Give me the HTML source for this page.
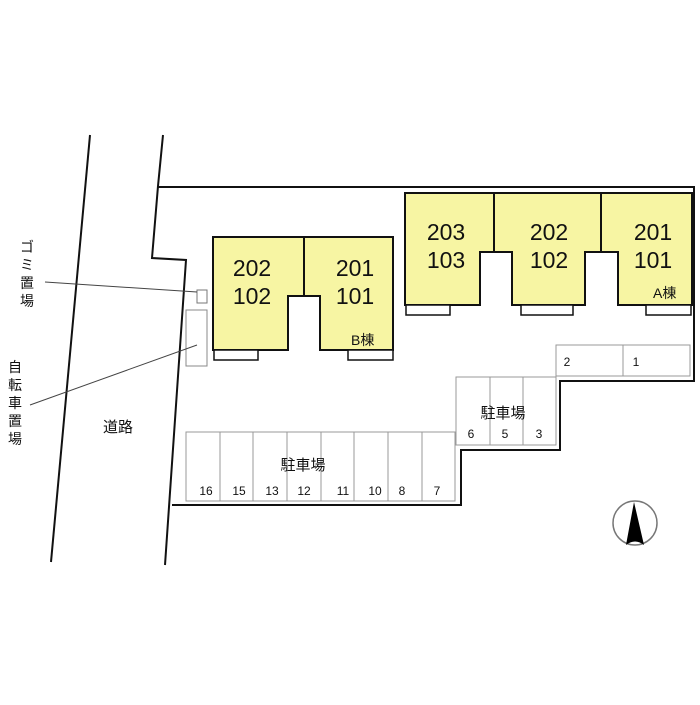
<!DOCTYPE html>
<html><head><meta charset="utf-8"><style>
html,body{margin:0;padding:0;background:#fff;}
svg text{font-family:"Liberation Sans","Noto Sans CJK JP",sans-serif;fill:#111;}
</style></head><body>
<svg width="700" height="700" viewBox="0 0 700 700" xmlns="http://www.w3.org/2000/svg">
<rect width="700" height="700" fill="#fff"/>
<!-- road lines -->
<line x1="90" y1="135" x2="51" y2="562" stroke="#111" stroke-width="2"/>
<polyline points="163,135 158,186 152,258 186,260 165,565" fill="none" stroke="#111" stroke-width="2"/>
<!-- site boundary -->
<polyline points="158,187 694,187 694,381 560,381 560,450 461,450 461,505 172,505" fill="none" stroke="#111" stroke-width="2"/>
<!-- building B -->
<path d="M213,237 H393 V350 H320 V296 H288 V350 H213 Z" fill="#f7f5a3" stroke="#111" stroke-width="2"/>
<line x1="304" y1="237" x2="304" y2="296" stroke="#111" stroke-width="2"/>
<rect x="214" y="350" width="44" height="10" fill="#fff" stroke="#111" stroke-width="1.5"/>
<rect x="348" y="350" width="45" height="10" fill="#fff" stroke="#111" stroke-width="1.5"/>
<!-- building A -->
<path d="M405,193 H692 V305 H618 V252 H585 V305 H512 V252 H480 V305 H405 Z" fill="#f7f5a3" stroke="#111" stroke-width="2"/>
<line x1="494" y1="193" x2="494" y2="252" stroke="#111" stroke-width="2"/>
<line x1="601" y1="193" x2="601" y2="252" stroke="#111" stroke-width="2"/>
<rect x="406" y="305" width="44" height="10" fill="#fff" stroke="#111" stroke-width="1.5"/>
<rect x="521" y="305" width="52" height="10" fill="#fff" stroke="#111" stroke-width="1.5"/>
<rect x="646" y="305" width="45" height="10" fill="#fff" stroke="#111" stroke-width="1.5"/>
<g font-size="23" text-anchor="middle">
<text x="252" y="276">202</text><text x="252" y="304">102</text>
<text x="355" y="276">201</text><text x="355" y="304">101</text>
<text x="446" y="240">203</text><text x="446" y="268">103</text>
<text x="549" y="240">202</text><text x="549" y="268">102</text>
<text x="653" y="240">201</text><text x="653" y="268">101</text>
</g>
<text x="351" y="345" font-size="14">B棟</text>
<text x="653" y="298" font-size="14">A棟</text>
<!-- garbage / bike -->
<rect x="197" y="290" width="10" height="13" fill="#fff" stroke="#777" stroke-width="1"/>
<rect x="186" y="310" width="21" height="56" fill="#fff" stroke="#888" stroke-width="1"/>
<line x1="45" y1="282" x2="197" y2="292" stroke="#444" stroke-width="1"/>
<line x1="30" y1="405" x2="197" y2="345" stroke="#444" stroke-width="1"/>
<!-- parking -->
<g fill="none" stroke="#999" stroke-width="1">
<rect x="556" y="345" width="134" height="31"/>
<line x1="623" y1="345" x2="623" y2="376"/>
<rect x="456" y="377" width="100" height="68"/>
<line x1="490" y1="377" x2="490" y2="445"/><line x1="523" y1="377" x2="523" y2="445"/>
<rect x="186" y="432" width="269" height="69"/>
<line x1="220" y1="432" x2="220" y2="501"/><line x1="253" y1="432" x2="253" y2="501"/>
<line x1="287" y1="432" x2="287" y2="501"/><line x1="321" y1="432" x2="321" y2="501"/>
<line x1="354" y1="432" x2="354" y2="501"/><line x1="388" y1="432" x2="388" y2="501"/>
<line x1="422" y1="432" x2="422" y2="501"/>
</g>
<g font-size="12" text-anchor="middle">
<text x="567" y="366">2</text><text x="636" y="366">1</text>
<text x="471" y="438">6</text><text x="505" y="438">5</text><text x="539" y="438">3</text>
<text x="206" y="495">16</text><text x="239" y="495">15</text><text x="272" y="495">13</text>
<text x="304" y="495">12</text><text x="343" y="495">11</text><text x="375" y="495">10</text>
<text x="402" y="495">8</text><text x="437" y="495">7</text>
</g>
<text x="503" y="418" font-size="15" text-anchor="middle">駐車場</text>
<text x="303" y="470" font-size="15" text-anchor="middle">駐車場</text>
<text x="118" y="432" font-size="15" text-anchor="middle">道路</text>
<g font-size="14" text-anchor="middle">
<text x="27" y="252">ゴ</text><text x="27" y="270">ミ</text><text x="27" y="288">置</text><text x="27" y="306">場</text>
<text x="15" y="372">自</text><text x="15" y="390">転</text><text x="15" y="408">車</text><text x="15" y="426">置</text><text x="15" y="444">場</text>
</g>
<!-- north arrow -->
<circle cx="635" cy="523" r="22" fill="none" stroke="#777" stroke-width="1.5"/>
<path d="M634,502 L644,545 Q635,538 626,545 Z" fill="#000"/>
</svg>
</body></html>
